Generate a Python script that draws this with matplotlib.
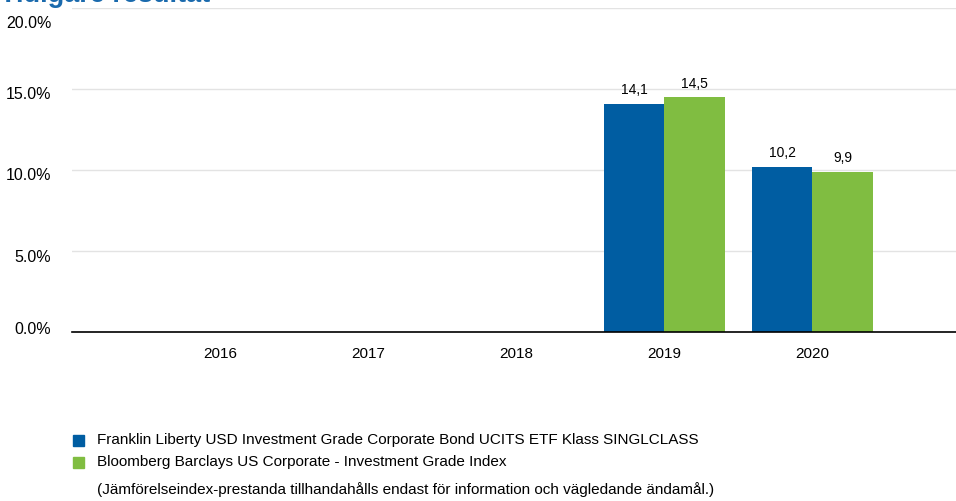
import matplotlib
matplotlib.use("Agg")
import matplotlib.pyplot as plt
import matplotlib.transforms as mtransforms
import numpy as np

plt.rcParams["font.family"] = ["Liberation Sans", "DejaVu Sans"]

years = ["2016", "2017", "2018", "2019", "2020"]
fund = [None, None, None, 14.1, 10.2]
index = [None, None, None, 14.5, 9.9]
fund_name = "Franklin Liberty USD Investment Grade Corporate Bond UCITS ETF Klass SINGLCLASS"
index_name = "Bloomberg Barclays US Corporate - Investment Grade Index"
note = "(Jämförelseindex-prestanda tillhandahålls endast för information och vägledande ändamål.)"
yticks = [0, 5, 10, 15, 20]

blue = "#005da2"
green = "#80bd41"

fig = plt.figure(figsize=(9.56, 5.01), dpi=100)
ax = fig.add_axes([72 / 956, 1 - 332 / 501, 884 / 956, 324 / 501])

x = np.arange(len(years))
w = 0.41
for i in range(len(years)):
    if fund[i] is not None:
        ax.bar(x[i] - w / 2, fund[i], w, color=blue)
        ax.text(x[i] - w / 2, fund[i] + 0.4, f"{fund[i]:.1f}".replace(".", ","),
                ha="center", va="bottom", fontsize=10)
    if index[i] is not None:
        ax.bar(x[i] + w / 2, index[i], w, color=green)
        ax.text(x[i] + w / 2, index[i] + 0.4, f"{index[i]:.1f}".replace(".", ","),
                ha="center", va="bottom", fontsize=10)

ax.set_xlim(-1, 4.97)
ax.set_ylim(0, 20)
ax.set_xticks(x)
ax.set_xticklabels(years, fontsize=11)
ax.set_yticks(yticks)
ax.set_yticklabels([f"{v:.1f}%" for v in yticks], fontsize=11.5)
ax.tick_params(length=0)
ax.tick_params(axis="x", pad=11)
ax.tick_params(axis="y", pad=15)
# the reference nudges the y labels a little off their gridlines
shifts = [-4, 5, 4, 4, 14]
for lbl, dy in zip(ax.get_yticklabels(), shifts):
    lbl.set_transform(lbl.get_transform() +
                      mtransforms.ScaledTranslation(0, -dy / 100, fig.dpi_scale_trans))
for s in ["top", "right", "left"]:
    ax.spines[s].set_visible(False)
ax.spines["bottom"].set_color("black")
ax.spines["bottom"].set_linewidth(1.2)
ax.grid(axis="y", color="#e3e3e3", linewidth=1)
ax.set_axisbelow(True)

# legend
fig.patches.append(plt.Rectangle((73 / 956, 1 - 446 / 501), 11 / 956, 11 / 501,
                                 color=blue, transform=fig.transFigure))
fig.patches.append(plt.Rectangle((73 / 956, 1 - 468 / 501), 11 / 956, 11 / 501,
                                 color=green, transform=fig.transFigure))
fig.text(97 / 956, 1 - 440 / 501, fund_name, fontsize=11, va="center")
fig.text(97 / 956, 1 - 462 / 501, index_name, fontsize=11, va="center")
fig.text(97 / 956, 1 - 490 / 501, note, fontsize=11, va="center")

fig.text(0, 1 - 2 / 501, "Tidigare resultat", fontsize=19.5, fontweight="bold",
         color="#1a6aad", va="baseline", ha="left")

fig.savefig("out.png", dpi=100)
